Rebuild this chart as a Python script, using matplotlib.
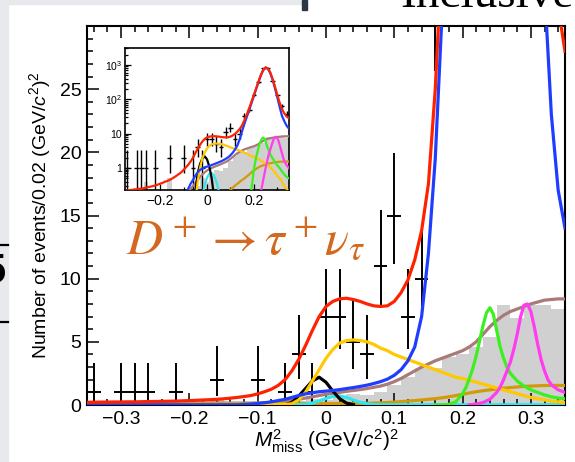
import numpy as np
import matplotlib
matplotlib.use('Agg')
import matplotlib.pyplot as plt
from matplotlib.patches import Rectangle
from matplotlib.lines import Line2D
from matplotlib.ticker import MultipleLocator, FixedLocator, LogLocator, NullFormatter

plt.rcParams['font.family'] = ['Liberation Sans', 'DejaVu Sans']
plt.rcParams['mathtext.fontset'] = 'custom'
plt.rcParams['mathtext.rm'] = 'Liberation Sans'
plt.rcParams['mathtext.it'] = 'Liberation Sans:italic'
plt.rcParams['mathtext.bf'] = 'Liberation Sans:bold'

# bin centres (width 0.02) of the M2miss histogram
bin_x = np.round(np.arange(-0.34, 0.35, 0.02), 2)

# data counts per bin and asymmetric poisson errors
counts = [1, 0, 1, 1, 1, 0, 1, 0, 0, 2, 0, 0, 2, 0, 1, 4, 1, 7, 7, 5, 4, 11, 15, 7, 10,
          32, 50, 135, 320, 800, 800, 350, 130, 62, 38]
err_lo = [0.83, 0, 0.83, 0.83, 0.83, 0, 0.83, 0, 0, 1.29, 0, 0, 1.29, 0, 0.83, 1.91, 0.83, 2.58, 2.58, 2.16, 1.91, 3.27, 3.83, 2.58, 3.11,
          5.6, 7.0, 11.6, 17.9, 28.3, 28.3, 18.7, 11.4, 7.9, 6.1]
err_hi = [2.30, 0, 2.30, 2.30, 2.30, 0, 2.30, 0, 0, 2.64, 0, 0, 2.64, 0, 2.30, 3.16, 2.30, 3.77, 3.77, 3.38, 3.16, 4.42, 4.96, 3.77, 4.26,
          6.7, 8.1, 12.6, 18.9, 28.8, 28.8, 19.2, 12.4, 8.9, 7.2]

# inclusive MC background (grey histogram)
mc_bkg = [0, 0, 0, 0, 0.4, 0, 0, 0, 0, 0.5, 0, 0, 0, 0, 0.3, 0.3, 0.5, 0.4, 0.6, 0.9, 0.8, 1.0, 1.6, 2.2, 2.9,
          2.9, 3.8, 4.0, 4.6, 5.4, 7.9, 6.9, 7.9, 7.9, 7.6]

# fit components sampled every 0.01 from -0.35 to 0.35
fx = np.round(np.arange(-0.35, 0.3501, 0.01), 2)
fit_total = [0.22, 0.22, 0.23, 0.23, 0.24, 0.24, 0.25, 0.25, 0.26, 0.27, 0.28, 0.29, 0.30, 0.31, 0.33, 0.35,
             0.37, 0.40, 0.42, 0.45, 0.49, 0.54, 0.60, 0.67, 0.75, 0.88, 1.05, 1.25, 1.55, 2.0, 2.7, 3.6, 4.7,
             5.9, 7.0, 7.8, 8.2, 8.4, 8.45, 8.35, 8.2, 8.0, 7.85, 7.8, 7.85, 8.2, 8.9, 9.9, 11.5, 13.8, 17.5,
             25, 36, 55, 85, 135, 210, 330, 510, 720, 850, 790, 600, 390, 235, 135, 80, 52, 39, 31.5, 28]
fit_peak = [0.02, 0.02, 0.02, 0.02, 0.02, 0.02, 0.02, 0.02, 0.02, 0.02, 0.02, 0.02, 0.02, 0.02, 0.02, 0.02,
            0.02, 0.02, 0.02, 0.02, 0.02, 0.02, 0.02, 0.05, 0.08, 0.12, 0.18, 0.25, 0.35, 0.45, 0.6, 0.75, 0.88,
            0.97, 1.05, 1.1, 1.15, 1.22, 1.3, 1.38, 1.47, 1.57, 1.7, 1.85, 2.05, 2.35, 2.8, 3.5, 4.6, 7.0, 12,
            19.5, 31, 48, 78, 125, 200, 320, 500, 700, 830, 780, 580, 370, 210, 115, 60, 33, 23, 17, 14]
fit_yellow = [0.05] * 30 + [0.1, 0.4, 1.0, 1.9, 2.8, 3.7, 4.4, 4.9, 5.1, 5.15, 5.1, 5.0, 4.8, 4.5, 4.3, 4.0,
              3.8, 3.6, 3.4, 3.2, 3.0, 2.8, 2.6, 2.4, 2.2, 2.1, 1.95, 1.8, 1.65, 1.5, 1.35, 1.2, 1.05, 0.9,
              0.75, 0.6, 0.5, 0.4, 0.3, 0.25, 0.2]
fit_brown = [0.15] * 25 + [0.16, 0.18, 0.2, 0.25, 0.3, 0.37, 0.45, 0.55, 0.65, 0.75, 0.85, 0.93, 1.0, 1.08,
             1.15, 1.22, 1.3, 1.4, 1.5, 1.65, 1.85, 2.1, 2.4, 2.7, 3.0, 3.25, 3.5, 3.7, 3.9, 4.1, 4.3, 4.6,
             5.0, 5.6, 6.2, 6.7, 7.1, 7.4, 7.6, 7.8, 8.0, 8.15, 8.3, 8.35, 8.4, 8.4]
fit_ochre = [0.12] * 41 + [0.13, 0.15, 0.17, 0.2, 0.23, 0.27, 0.31, 0.35, 0.4, 0.45, 0.5, 0.57, 0.65, 0.75,
             0.85, 0.95, 1.05, 1.13, 1.2, 1.27, 1.33, 1.38, 1.43, 1.47, 1.5, 1.52, 1.54, 1.55, 1.55, 1.55]

black_x = [-0.06, -0.05, -0.04, -0.03, -0.02, -0.01, 0.0, 0.01, 0.02, 0.03, 0.04]
black_y = [0.02, 0.2, 0.7, 1.3, 1.9, 2.2, 1.8, 1.1, 0.5, 0.15, 0.03]
cyan_x = [-0.35, -0.04, -0.03, -0.02, -0.01, 0.0, 0.01, 0.02, 0.03, 0.04, 0.05, 0.06, 0.07, 0.08, 0.35]
cyan_y = [0.02, 0.02, 0.06, 0.15, 0.32, 0.52, 0.68, 0.72, 0.6, 0.4, 0.22, 0.1, 0.04, 0.02, 0.02]
green_x = [0.16, 0.17, 0.18, 0.19, 0.20, 0.205, 0.21, 0.215, 0.22, 0.225, 0.23, 0.235, 0.24, 0.245, 0.25,
           0.255, 0.26, 0.265, 0.27, 0.28, 0.29, 0.30, 0.31, 0.32, 0.33, 0.34, 0.35]
green_y = [0.01, 0.01, 0.05, 0.25, 0.9, 1.4, 2.1, 2.9, 3.9, 5.1, 6.3, 7.3, 7.7, 7.2, 5.9, 4.6, 3.7, 3.0,
           2.5, 1.9, 1.5, 1.2, 1.0, 0.8, 0.65, 0.55, 0.5]
magenta_x = [0.21, 0.22, 0.23, 0.24, 0.25, 0.255, 0.26, 0.265, 0.27, 0.275, 0.28, 0.285, 0.29, 0.295,
             0.30, 0.305, 0.31, 0.315, 0.32, 0.325, 0.33, 0.34, 0.35]
magenta_y = [0.02, 0.08, 0.2, 0.45, 1.0, 1.4, 2.0, 2.7, 3.4, 4.4, 5.6, 7.0, 7.9, 8.0, 7.4, 6.2, 4.8, 3.6,
             2.7, 2.0, 1.6, 1.2, 1.0]

W, H = 575, 462


def box(x0, y0, x1, y1):
    return [x0 / W, 1 - y1 / H, (x1 - x0) / W, (y1 - y0) / H]


def draw(ax, lw, elw):
    ax.bar(bin_x, mc_bkg, width=0.02, color='#d0d0d0', linewidth=0, zorder=1)
    c = np.array(counts, dtype=float)
    m = c > 0
    ax.errorbar(bin_x[m], c[m], yerr=[np.array(err_lo)[m], np.array(err_hi)[m]], xerr=0.01,
                fmt='none', ecolor='black', elinewidth=elw, capsize=0, zorder=3)
    ax.plot(fx, fit_brown, color='#a87a78', lw=lw, zorder=4)
    ax.plot(fx, fit_ochre, color='#d19a0a', lw=lw, zorder=4)
    ax.plot(cyan_x, cyan_y, color='#2ee6f0', lw=lw, zorder=4)
    ax.plot(black_x, black_y, color='black', lw=lw, zorder=4)
    ax.plot(fx, fit_yellow, color='#ffc800', lw=lw, zorder=4)
    ax.plot(green_x, green_y, color='#3cf020', lw=lw, zorder=4)
    ax.plot(magenta_x, magenta_y, color='#ff3cf0', lw=lw, zorder=4)
    ax.plot(fx, fit_peak, color='#1f3dff', lw=lw, zorder=5)
    ax.plot(fx, fit_total, color='#ff2200', lw=lw, zorder=5)


fig = plt.figure(figsize=(5.75, 4.62), dpi=100)
fig.patch.set_facecolor('white')

# slide margins around the figure
fig.add_artist(Rectangle((0, 0), 8 / W, 1, transform=fig.transFigure, color='#e8e9ec', zorder=-2))
fig.add_artist(Rectangle((0, 1 - 4 / H), 302 / W, 4 / H, transform=fig.transFigure, color='#e8e9ec', zorder=-2))
fig.add_artist(Rectangle((302 / W, 1 - 10 / H), 5 / W, 10 / H, transform=fig.transFigure, color='#2c3644', zorder=-1))
for yy in (245, 322):
    fig.add_artist(Line2D([0, 8 / W], [1 - yy / H] * 2, transform=fig.transFigure, color='black', lw=1.6))
fig.text(6 / W, 1 - 272 / H, '5', fontsize=30, fontweight='bold', ha='right', va='center')
fig.text(400 / W, 1 - 7 / H, 'Inclusive', fontsize=34, family='Liberation Serif', ha='left', va='baseline')

ax = fig.add_axes(box(87, 26, 565, 405))
draw(ax, 2.3, 1.4)
ax.set_xlim(-0.35, 0.35)
ax.set_ylim(0, 30)
ax.xaxis.set_major_locator(FixedLocator([-0.3, -0.2, -0.1, 0, 0.1, 0.2, 0.3]))
ax.set_xticklabels(['\u22120.3', '\u22120.2', '\u22120.1', '0', '0.1', '0.2', '0.3'])
ax.xaxis.set_minor_locator(MultipleLocator(0.02))
ax.yaxis.set_major_locator(FixedLocator([0, 5, 10, 15, 20, 25]))
ax.yaxis.set_minor_locator(MultipleLocator(1))
ax.tick_params(which='both', direction='in', top=True, right=False, width=1.1, labelsize=14)
ax.tick_params(which='major', length=8.5, pad=4)
ax.tick_params(which='minor', length=4.3)
for s in ax.spines.values():
    s.set_linewidth(1.5)
ax.set_ylabel('Number of events/0.02 (GeV/$c^2$)$^2$', fontsize=14)
ax.yaxis.set_label_coords(-0.072, 0.5)
ax.set_xlabel(r'$M^2_{\rm miss}$ (GeV/$c^2$)$^2$', fontsize=15)
ax.xaxis.set_label_coords(0.5, -0.06)
ax.text(-0.293, 11.9, r'$D^+ \rightarrow \tau^+\nu_\tau$', color='#d2691e', fontsize=36,
        math_fontfamily='stix', va='baseline', ha='left', zorder=6)

# log-scale inset with the full peak
ax_in = fig.add_axes(box(125, 48, 289, 190))
ax_in.set_yscale('log')
draw(ax_in, 1.6, 1.0)
ax_in.set_xlim(-0.35, 0.35)
ax_in.set_ylim(0.23, 3100)
ax_in.xaxis.set_major_locator(FixedLocator([-0.2, 0, 0.2]))
ax_in.set_xticklabels(['\u22120.2', '0', '0.2'])
ax_in.xaxis.set_minor_locator(MultipleLocator(0.1))
ax_in.yaxis.set_major_locator(FixedLocator([1, 10, 100, 1000]))
ax_in.set_yticklabels(['1', '10', '$10^2$', '$10^3$'])
ax_in.yaxis.set_minor_locator(LogLocator(base=10, subs=np.arange(2, 10)))
ax_in.yaxis.set_minor_formatter(NullFormatter())
ax_in.tick_params(which='both', direction='in', top=False, right=False, width=0.9)
ax_in.tick_params(axis='x', labelsize=10, pad=3)
ax_in.tick_params(axis='y', labelsize=7.5, pad=2)
ax_in.tick_params(which='major', length=4)
ax_in.tick_params(which='minor', length=2)
for s in ax_in.spines.values():
    s.set_linewidth(1.2)

fig.savefig('out.png', dpi=100)
